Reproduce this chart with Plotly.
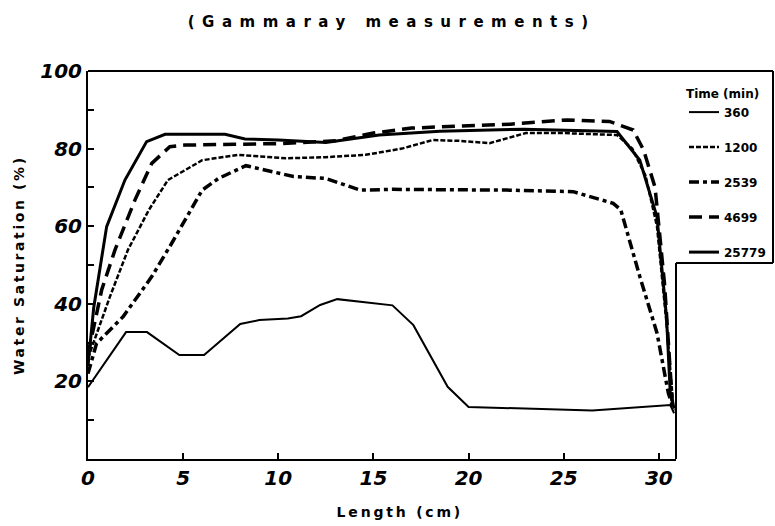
import plotly.graph_objects as go

# ---- data ----
x_360 = [0, 2, 3.1, 4.8, 6.1, 8, 9, 10.5, 11.2, 12.2, 13.1, 16, 17.1, 18.9, 20, 23.5, 26.5, 30.6, 30.8]
y_360 = [18.5, 32.7, 32.7, 26.8, 26.8, 34.8, 35.8, 36.2, 36.8, 39.7, 41.2, 39.6, 34.5, 18.6, 13.4, 12.9, 12.5, 13.9, 11.8]

x_1200 = [0, 0.5, 1.15, 2.1, 3.2, 4.2, 6, 7.9, 10.4, 12.5, 14.6, 16.5, 18.1, 19.5, 21.1, 23, 25, 27.8, 28.6, 29.3, 29.9, 30.4, 30.75]
y_1200 = [26, 33, 41.8, 53.9, 64.2, 71.9, 77, 78.4, 77.5, 77.8, 78.4, 80, 82.2, 82, 81.4, 84, 84, 83.5, 80, 73, 60, 35, 14]

x_2539 = [0, 0.45, 1.85, 3.35, 4.4, 6, 6.85, 8.3, 10.8, 12.5, 14.3, 16, 22, 25.5, 27.6, 28, 29, 29.9, 30.5, 30.8]
y_2539 = [22, 29.8, 36.7, 47, 55.6, 69.3, 72.3, 75.6, 72.8, 72.3, 69.3, 69.5, 69.3, 68.9, 65.9, 64.2, 47, 32.5, 16.9, 12.5]

x_4699 = [0, 0.72, 1.42, 2.47, 3.35, 4.3, 5.1, 10.2, 13, 15, 17, 20, 22.2, 25.2, 27.4, 28.65, 29.2, 29.8, 30.3, 30.7]
y_4699 = [27, 43.6, 53.9, 66.8, 76.2, 80.5, 80.9, 81.3, 82, 84, 85.3, 86, 86.3, 87.4, 87, 84.8, 79.6, 70, 45, 15]

x_25779 = [0, 0.3, 0.98, 1.94, 3.08, 4.05, 7.2, 8.25, 10, 12.5, 15.3, 18.5, 22.9, 27.8, 29, 29.9, 30.4, 30.6, 30.8]
y_25779 = [24, 39, 59.9, 71.9, 81.8, 83.7, 83.7, 82.5, 82.2, 81.6, 83.5, 84.5, 85, 84.4, 77, 62.4, 36.7, 16.9, 13]

series_names = ["360", "1200", "2539", "4699", "25779"]
x_ticks = [0, 5, 10, 15, 20, 25, 30]
y_ticks = [20, 40, 60, 80, 100]
y_minor = [10, 30, 50, 70, 90]

title_text = "(Gammaray measurements)"
x_title = "Length (cm)"
y_title = "Water Saturation (%)"
legend_title = "Time (min)"

# ---- figure ----
styles = [
    dict(width=2, dash="solid"),
    dict(width=2.5, dash="5px,2px"),
    dict(width=3.5, dash="10px,4px,4px,4px"),
    dict(width=3.5, dash="13px,7px"),
    dict(width=3, dash="solid"),
]
xs = [x_360, x_1200, x_2539, x_4699, x_25779]
ys = [y_360, y_1200, y_2539, y_4699, y_25779]

fig = go.Figure()
for name, xv, yv, st in zip(series_names, xs, ys, styles):
    fig.add_trace(go.Scatter(
        x=xv, y=yv, mode="lines", name=name, legendgroup=name,
        line=dict(color="black", width=st["width"], dash=st["dash"]),
    ))

tickfont = dict(family="DejaVu Sans", size=20, color="black", weight="bold", style="italic")
W, H = 775, 526
L, R, T, B = 88, 99, 71, 67
pw, ph = W - L - R, H - T - B

def px_x(p):
    return (p - L) / pw

def px_y(p):
    return (H - B - p) / ph

fig.update_layout(
    width=W, height=H, autosize=False,
    margin=dict(l=L, r=R, t=T, b=B, autoexpand=False),
    paper_bgcolor="white", plot_bgcolor="white",
    showlegend=True,
    legend=dict(
        x=px_x(684), y=px_y(82), xanchor="left", yanchor="top",
        bgcolor="rgba(0,0,0,0)", borderwidth=0,
        title=dict(text=legend_title, font=dict(family="DejaVu Sans", size=12, color="black", weight="bold")),
        font=dict(family="DejaVu Sans", size=12, color="black", weight="bold"),
        traceorder="grouped", tracegroupgap=16,
    ),
    xaxis=dict(
        range=[0, 30.9], tickvals=x_ticks, ticktext=[str(v) for v in x_ticks],
        ticks="inside", ticklen=6, tickwidth=2, tickcolor="black",
        showline=True, linewidth=2, linecolor="black", mirror=False,
        showgrid=False, zeroline=False, tickfont=tickfont, automargin=False,
    ),
    yaxis=dict(
        range=[0, 100], tickvals=y_ticks, ticktext=[str(v) for v in y_ticks],
        ticks="inside", ticklen=6, tickwidth=2, tickcolor="black",
        minor=dict(tickvals=y_minor, ticks="inside", ticklen=6, tickwidth=2, tickcolor="black"),
        showline=True, linewidth=2, linecolor="black", mirror=False,
        showgrid=False, zeroline=False, tickfont=tickfont, automargin=False,
    ),
    annotations=[
        dict(text=title_text, xref="paper", yref="paper", x=px_x(391), y=px_y(22),
             xanchor="center", yanchor="middle", showarrow=False,
             font=dict(family="DejaVu Sans", size=15, color="black", weight="bold")),
        dict(text=x_title, xref="paper", yref="paper", x=px_x(400), y=px_y(512),
             xanchor="center", yanchor="middle", showarrow=False,
             font=dict(family="DejaVu Sans", size=14, color="black", weight="bold")),
        dict(text=y_title, xref="paper", yref="paper", x=px_x(19), y=px_y(265),
             xanchor="center", yanchor="middle", showarrow=False, textangle=-90,
             font=dict(family="DejaVu Sans", size=14, color="black", weight="bold")),
    ],
    shapes=[
        dict(type="line", xref="paper", yref="paper", x0=0, x1=px_x(773), y0=1, y1=1,
             line=dict(color="black", width=2)),
        dict(type="line", xref="paper", yref="paper", x0=px_x(773), x1=px_x(773), y0=1, y1=px_y(263),
             line=dict(color="black", width=2)),
        dict(type="line", xref="paper", yref="paper", x0=1, x1=px_x(773), y0=px_y(263), y1=px_y(263),
             line=dict(color="black", width=2)),
        dict(type="line", xref="paper", yref="paper", x0=1, x1=1, y0=0, y1=px_y(263),
             line=dict(color="black", width=2)),
    ],
)

post = """
var gd = document.getElementById('{plot_id}');
var m = {'(Gammaray measurements)': '7.5px', 'Water Saturation (%)': '2.6px', 'Length (cm)': '2.8px'};
gd.querySelectorAll('text').forEach(function(t){ if (m[t.textContent]) { t.style.letterSpacing = m[t.textContent]; } });
"""

fig.write_html("out.html", post_script=post)
